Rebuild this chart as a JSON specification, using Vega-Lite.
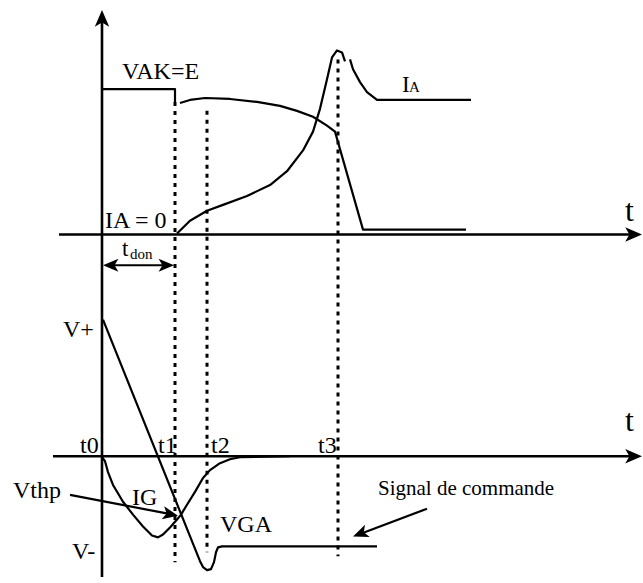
{
  "$schema": "https://vega.github.io/schema/vega-lite/v6.json",
  "width": 643,
  "height": 583,
  "autosize": {"type": "fit", "contains": "padding"},
  "padding": 0,
  "background": "white",
  "config": {"view": {"stroke": null}},
  "datasets": {
    "axes": [
      {"s": "axV", "i": 0, "x": 102, "y": 583}, {"s": "axV", "i": 1, "x": 102, "y": 20},
      {"s": "axU", "i": 0, "x": 59, "y": 237}, {"s": "axU", "i": 1, "x": 632, "y": 237},
      {"s": "axL", "i": 0, "x": 53, "y": 461}, {"s": "axL", "i": 1, "x": 632, "y": 461}
    ],
    "curves": [
      {"s": "vak1", "i": 0, "x": 102, "y": 90}, {"s": "vak1", "i": 1, "x": 175, "y": 90}, {"s": "vak1", "i": 2, "x": 175, "y": 103},
      {"s": "vak2", "i": 0, "x": 180, "y": 104}, {"s": "vak2", "i": 1, "x": 190, "y": 101}, {"s": "vak2", "i": 2, "x": 205, "y": 99},
      {"s": "vak2", "i": 3, "x": 230, "y": 100}, {"s": "vak2", "i": 4, "x": 257, "y": 103}, {"s": "vak2", "i": 5, "x": 280, "y": 107},
      {"s": "vak2", "i": 6, "x": 297, "y": 112}, {"s": "vak2", "i": 7, "x": 313, "y": 118}, {"s": "vak2", "i": 8, "x": 327, "y": 127},
      {"s": "vak2", "i": 9, "x": 335, "y": 133}, {"s": "vak2", "i": 10, "x": 363, "y": 232}, {"s": "vak2", "i": 11, "x": 466, "y": 232},
      {"s": "ia1", "i": 0, "x": 177, "y": 236}, {"s": "ia1", "i": 1, "x": 190, "y": 223}, {"s": "ia1", "i": 2, "x": 207, "y": 213},
      {"s": "ia1", "i": 3, "x": 223, "y": 207}, {"s": "ia1", "i": 4, "x": 247, "y": 198}, {"s": "ia1", "i": 5, "x": 270, "y": 187},
      {"s": "ia1", "i": 6, "x": 287, "y": 173}, {"s": "ia1", "i": 7, "x": 303, "y": 152}, {"s": "ia1", "i": 8, "x": 313, "y": 133},
      {"s": "ia1", "i": 9, "x": 320, "y": 110}, {"s": "ia1", "i": 10, "x": 327, "y": 80}, {"s": "ia1", "i": 11, "x": 332, "y": 58},
      {"s": "ia1", "i": 12, "x": 337, "y": 51}, {"s": "ia1", "i": 13, "x": 342, "y": 53}, {"s": "ia1", "i": 14, "x": 345, "y": 62},
      {"s": "ia2", "i": 0, "x": 350, "y": 60}, {"s": "ia2", "i": 1, "x": 353, "y": 70}, {"s": "ia2", "i": 2, "x": 360, "y": 83},
      {"s": "ia2", "i": 3, "x": 367, "y": 93}, {"s": "ia2", "i": 4, "x": 377, "y": 101}, {"s": "ia2", "i": 5, "x": 471, "y": 101},
      {"s": "vga", "i": 0, "x": 103, "y": 323}, {"s": "vga", "i": 1, "x": 200, "y": 567}, {"s": "vga", "i": 2, "x": 203, "y": 573},
      {"s": "vga", "i": 3, "x": 207, "y": 576}, {"s": "vga", "i": 4, "x": 211, "y": 575}, {"s": "vga", "i": 5, "x": 214, "y": 568},
      {"s": "vga", "i": 6, "x": 216, "y": 558}, {"s": "vga", "i": 7, "x": 218, "y": 553}, {"s": "vga", "i": 8, "x": 222, "y": 552},
      {"s": "vga", "i": 9, "x": 377, "y": 552},
      {"s": "ig", "i": 0, "x": 102, "y": 462}, {"s": "ig", "i": 1, "x": 105, "y": 466}, {"s": "ig", "i": 2, "x": 108, "y": 477},
      {"s": "ig", "i": 3, "x": 113, "y": 490}, {"s": "ig", "i": 4, "x": 123, "y": 507}, {"s": "ig", "i": 5, "x": 133, "y": 520},
      {"s": "ig", "i": 6, "x": 143, "y": 532}, {"s": "ig", "i": 7, "x": 152, "y": 541}, {"s": "ig", "i": 8, "x": 158, "y": 543},
      {"s": "ig", "i": 9, "x": 163, "y": 540}, {"s": "ig", "i": 10, "x": 170, "y": 533}, {"s": "ig", "i": 11, "x": 177, "y": 525},
      {"s": "ig", "i": 12, "x": 181, "y": 520}, {"s": "ig", "i": 13, "x": 187, "y": 510}, {"s": "ig", "i": 14, "x": 195, "y": 497},
      {"s": "ig", "i": 15, "x": 203, "y": 483}, {"s": "ig", "i": 16, "x": 210, "y": 475}, {"s": "ig", "i": 17, "x": 220, "y": 468},
      {"s": "ig", "i": 18, "x": 230, "y": 464}, {"s": "ig", "i": 19, "x": 240, "y": 462}, {"s": "ig", "i": 20, "x": 290, "y": 461},
      {"s": "don", "i": 0, "x": 110, "y": 268}, {"s": "don", "i": 1, "x": 166, "y": 268},
      {"s": "vthp", "i": 0, "x": 70, "y": 500}, {"s": "vthp", "i": 1, "x": 168, "y": 519},
      {"s": "sig", "i": 0, "x": 427, "y": 514}, {"s": "sig", "i": 1, "x": 364, "y": 538}
    ],
    "guides": [
      {"s": "t1", "i": 0, "x": 175, "y": 103}, {"s": "t1", "i": 1, "x": 175, "y": 568},
      {"s": "t2", "i": 0, "x": 207, "y": 112}, {"s": "t2", "i": 1, "x": 207, "y": 558},
      {"s": "t3", "i": 0, "x": 338, "y": 60}, {"s": "t3", "i": 1, "x": 338, "y": 562}
    ],
    "heads": [
      {"k": "up", "x": 102, "y": 10},
      {"k": "right", "x": 642, "y": 237},
      {"k": "right", "x": 642, "y": 461},
      {"k": "donL", "x": 103, "y": 268},
      {"k": "donR", "x": 174, "y": 268},
      {"k": "vthp", "x": 178, "y": 521},
      {"k": "sig", "x": 353, "y": 542}
    ],
    "labels": [
      {"r": "main", "t": "VAK=E", "x": 122, "y": 80},
      {"r": "main", "t": "IA = 0", "x": 105, "y": 230},
      {"r": "main", "t": "V+", "x": 63, "y": 341},
      {"r": "main", "t": "t0", "x": 80, "y": 458},
      {"r": "main", "t": "t1", "x": 158, "y": 458},
      {"r": "main", "t": "t2", "x": 211, "y": 458},
      {"r": "main", "t": "t3", "x": 318, "y": 458},
      {"r": "main", "t": "Vthp", "x": 13, "y": 503},
      {"r": "main", "t": "IG", "x": 132, "y": 510},
      {"r": "main", "t": "VGA", "x": 220, "y": 538},
      {"r": "main", "t": "V-", "x": 72, "y": 565},
      {"r": "note", "t": "Signal de commande", "x": 378, "y": 500},
      {"r": "axis", "t": "t", "x": 625, "y": 223},
      {"r": "axis", "t": "t", "x": 625, "y": 435},
      {"r": "mid", "t": "I", "x": 402, "y": 93},
      {"r": "mid", "t": "t", "x": 122, "y": 259},
      {"r": "sub", "t": "A", "x": 409, "y": 93},
      {"r": "sub", "t": "don", "x": 130, "y": 262}
    ]
  },
  "encoding": {
    "x": {"field": "x", "type": "quantitative", "scale": {"domain": [0, 643], "nice": false, "zero": false}, "axis": null},
    "y": {"field": "y", "type": "quantitative", "scale": {"domain": [0, 583], "nice": false, "zero": false, "reverse": true}, "axis": null}
  },
  "layer": [
    {
      "data": {"name": "guides"},
      "mark": {"type": "line", "color": "black", "strokeWidth": 3, "strokeDash": [4, 5]},
      "encoding": {"detail": {"field": "s"}, "order": {"field": "i"}}
    },
    {
      "data": {"name": "axes"},
      "mark": {"type": "line", "color": "black", "strokeWidth": 2.6},
      "encoding": {"detail": {"field": "s"}, "order": {"field": "i"}}
    },
    {
      "data": {"name": "curves"},
      "mark": {"type": "line", "color": "black", "strokeWidth": 2.2, "strokeJoin": "round"},
      "encoding": {"detail": {"field": "s"}, "order": {"field": "i"}}
    },
    {
      "data": {"name": "heads"},
      "transform": [{"filter": "datum.k === 'up'"}],
      "mark": {"type": "point", "shape": "M0,0 L0.6,1.4 L0,1.05 L-0.6,1.4 Z", "filled": true, "color": "black", "opacity": 1, "size": 576, "angle": 0}
    },
    {
      "data": {"name": "heads"},
      "transform": [{"filter": "datum.k === 'right'"}],
      "mark": {"type": "point", "shape": "M0,0 L0.6,1.4 L0,1.05 L-0.6,1.4 Z", "filled": true, "color": "black", "opacity": 1, "size": 576, "angle": 90}
    },
    {
      "data": {"name": "heads"},
      "transform": [{"filter": "datum.k === 'donL'"}],
      "mark": {"type": "point", "shape": "M0,0 L0.6,1.4 L0,1.05 L-0.6,1.4 Z", "filled": true, "color": "black", "opacity": 1, "size": 484, "angle": 270}
    },
    {
      "data": {"name": "heads"},
      "transform": [{"filter": "datum.k === 'donR'"}],
      "mark": {"type": "point", "shape": "M0,0 L0.6,1.4 L0,1.05 L-0.6,1.4 Z", "filled": true, "color": "black", "opacity": 1, "size": 484, "angle": 90}
    },
    {
      "data": {"name": "heads"},
      "transform": [{"filter": "datum.k === 'vthp'"}],
      "mark": {"type": "point", "shape": "M0,0 L0.6,1.4 L0,1.05 L-0.6,1.4 Z", "filled": true, "color": "black", "opacity": 1, "size": 484, "angle": 101}
    },
    {
      "data": {"name": "heads"},
      "transform": [{"filter": "datum.k === 'sig'"}],
      "mark": {"type": "point", "shape": "M0,0 L0.6,1.4 L0,1.05 L-0.6,1.4 Z", "filled": true, "color": "black", "opacity": 1, "size": 484, "angle": 249}
    },
    {
      "data": {"name": "labels"},
      "transform": [{"filter": "datum.r === 'main'"}],
      "mark": {"type": "text", "font": "Liberation Serif", "fontSize": 24, "align": "left", "baseline": "alphabetic", "color": "black"},
      "encoding": {"text": {"field": "t"}}
    },
    {
      "data": {"name": "labels"},
      "transform": [{"filter": "datum.r === 'note'"}],
      "mark": {"type": "text", "font": "Liberation Serif", "fontSize": 21, "align": "left", "baseline": "alphabetic", "color": "black"},
      "encoding": {"text": {"field": "t"}}
    },
    {
      "data": {"name": "labels"},
      "transform": [{"filter": "datum.r === 'axis'"}],
      "mark": {"type": "text", "font": "Liberation Serif", "fontSize": 32, "align": "left", "baseline": "alphabetic", "color": "black"},
      "encoding": {"text": {"field": "t"}}
    },
    {
      "data": {"name": "labels"},
      "transform": [{"filter": "datum.r === 'mid'"}],
      "mark": {"type": "text", "font": "Liberation Serif", "fontSize": 23, "align": "left", "baseline": "alphabetic", "color": "black"},
      "encoding": {"text": {"field": "t"}}
    },
    {
      "data": {"name": "labels"},
      "transform": [{"filter": "datum.r === 'sub'"}],
      "mark": {"type": "text", "font": "Liberation Serif", "fontSize": 15, "align": "left", "baseline": "alphabetic", "color": "black"},
      "encoding": {"text": {"field": "t"}}
    }
  ]
}
